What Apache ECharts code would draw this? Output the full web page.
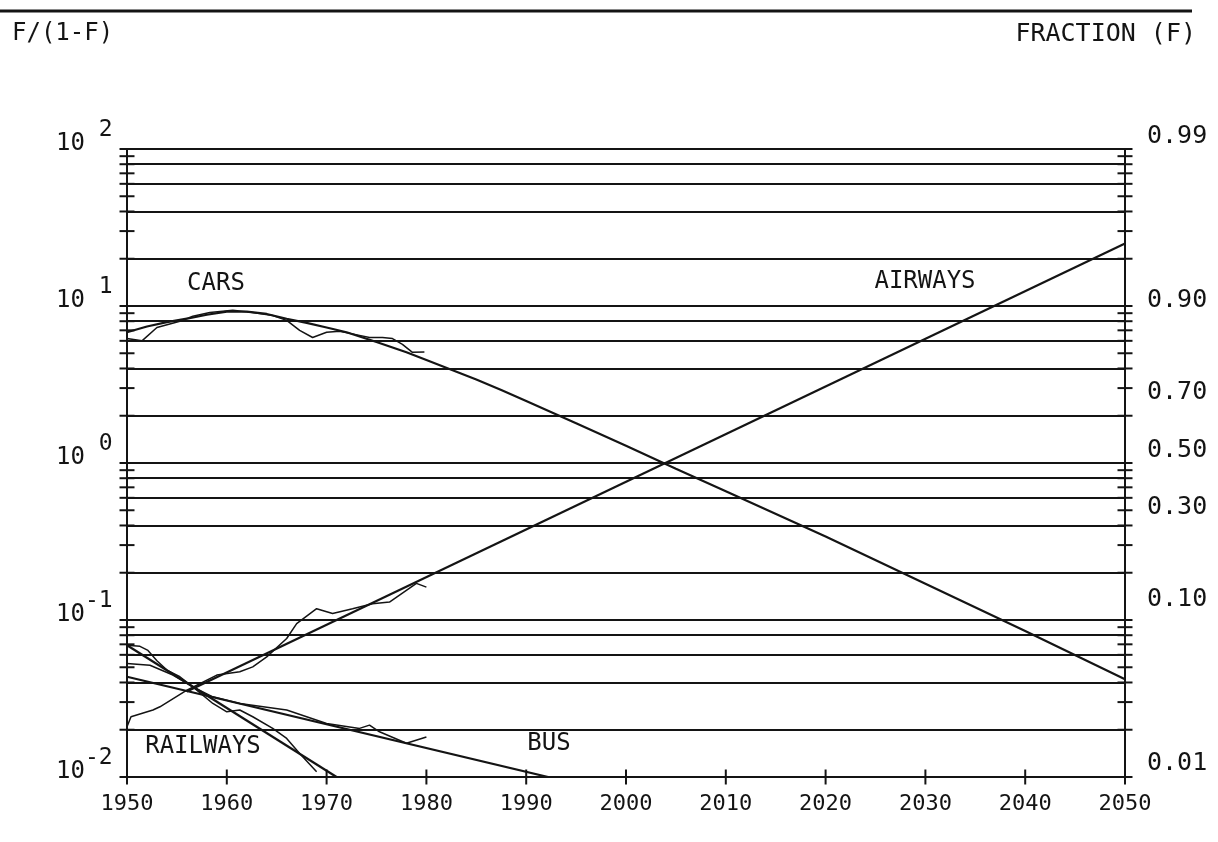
<!DOCTYPE html>
<html>
<head>
<meta charset="utf-8">
<script src="https://cdn.jsdelivr.net/npm/echarts@6/dist/echarts.min.js"></script>
<style>
html,body{margin:0;padding:0;background:#ffffff;}
#chart{width:1218px;height:842px;}
</style>
</head>
<body>
<div id="chart"></div>
<script>
// ---------- data ----------
const yearTicks = [1950,1960,1970,1980,1990,2000,2010,2020,2030,2040,2050];
const oddsTicks = [0.01,0.02,0.03,0.04,0.05,0.06,0.07,0.08,0.09,
                   0.1,0.2,0.3,0.4,0.5,0.6,0.7,0.8,0.9,
                   1,2,3,4,5,6,7,8,9,
                   10,20,30,40,50,60,70,80,90,100];
const gridOdds = [0.01,0.02,0.04,0.06,0.08,0.1,0.2,0.4,0.6,0.8,1,2,4,6,8,10,20,40,60,80,100];
const fractionValues = [0.99,0.90,0.70,0.50,0.30,0.10,0.01];
const fractionText   = ['0.99','0.90','0.70','0.50','0.30','0.10','0.01'];

// CARS
const carsHistYears = [1950,1951.5,1953,1955.3,1956.6,1958.3,1960.6,1962.6,1964.6,1966,1967.3,1968.6,1970,1971.3,1973.3,1974.3,1975.6,1976.6,1977.6,1978.6,1979.8];
const carsHistOdds  = [6.2,6.0,7.3,8.0,8.6,9.1,9.4,9.1,8.7,8.1,7.0,6.3,6.8,6.9,6.5,6.3,6.3,6.2,5.7,5.07,5.1];
const carsFitYears = [1950,1952,1954,1956,1958,1960,1962,1964,1966,1968,1970,1972,1975,1978,1980,1982.5,1985,1987.5,1990,1995,2000,2005,2010,2020,2030,2040,2050];
const carsFitOdds  = [6.8,7.4,7.9,8.3,8.8,9.2,9.2,8.9,8.3,7.8,7.3,6.8,5.9,5.07,4.53,3.93,3.40,2.92,2.48,1.79,1.29,0.92,0.66,0.34,0.17,0.085,0.042];

// AIRWAYS
const airHistYears = [1950,1950.4,1952.6,1953.3,1956,1959,1961.3,1962.6,1964,1966,1967,1969,1970.6,1972.6,1974.6,1976.3,1979,1980];
const airHistOdds  = [0.0209,0.0242,0.0267,0.028,0.0357,0.0446,0.0468,0.0503,0.0582,0.0762,0.0949,0.118,0.110,0.118,0.127,0.130,0.171,0.162];
const airFitYears = [1956,2050];
const airFitOdds  = [0.035,25];

// RAILWAYS
const railHistYears = [1950,1951.3,1952.1,1953,1954,1955.3,1956.6,1958.6,1960,1961.3,1962.6,1964.6,1966,1967.3,1969];
const railHistOdds  = [0.069,0.068,0.064,0.055,0.048,0.0435,0.0375,0.0294,0.026,0.0267,0.0242,0.0204,0.0176,0.0141,0.0108];
const railFitYears = [1950,1971];
const railFitOdds  = [0.069,0.01];

// BUS
const busHistYears = [1950,1952.3,1954.6,1956.6,1958.6,1961.3,1966,1970,1973.3,1974.3,1975.3,1978,1980];
const busHistOdds  = [0.0529,0.0515,0.0446,0.0375,0.0324,0.0294,0.0267,0.0219,0.0204,0.0214,0.0194,0.0164,0.018];
const busFitYears = [1950,1992.2];
const busFitOdds  = [0.0435,0.01];

// ---------- chart ----------
const INK = '#141414';
const FONT = 'DejaVu Sans Mono';
const pair = (xs, ys) => xs.map((x, i) => [x, ys[i]]);

function lineSeries(name, xs, ys, width) {
  return {
    name: name, type: 'line', data: pair(xs, ys),
    symbol: 'none', showSymbol: false, clip: true, silent: true,
    lineStyle: {color: INK, width: width}, z: 5
  };
}

const chart = echarts.init(document.getElementById('chart'), null, {renderer: 'canvas'});

const option = {
  animation: false,
  backgroundColor: '#ffffff',
  grid: {left: 127, right: 93, top: 149, bottom: 65, containLabel: false},
  xAxis: [{
    type: 'value', min: 1950, max: 2050, interval: 10,
    axisLine: {show: true, lineStyle: {color: INK, width: 2}},
    axisTick: {show: false},
    splitLine: {show: false},
    axisLabel: {
      show: true, margin: 16, color: INK,
      fontFamily: FONT, fontSize: 22,
      formatter: v => String(v)
    }
  }],
  yAxis: [{
    type: 'log', logBase: 10, min: 0.01, max: 100, position: 'left',
    axisLine: {show: true, lineStyle: {color: INK, width: 2}},
    axisTick: {show: false},
    splitLine: {show: false},
    minorTick: {show: false},
    axisLabel: {
      show: true, align: 'left', margin: 71, color: INK,
      formatter: v => {
        const e = Math.round(Math.log10(v));
        const s = e < 0 ? String(e) : ' ' + e;
        return '{b|10}{s|' + s + '}';
      },
      rich: {
        b: {fontFamily: FONT, fontSize: 24, color: INK, padding: [0, 0, 10, 0]},
        s: {fontFamily: FONT, fontSize: 23, color: INK, padding: [0, 0, 38, 0]}
      }
    }
  }, {
    type: 'log', logBase: 10, min: 0.01, max: 100, position: 'right',
    axisLine: {show: true, lineStyle: {color: INK, width: 2}},
    axisTick: {show: false}, axisLabel: {show: false}, splitLine: {show: false}
  }],
  series: [
    {
      name: 'grid', type: 'scatter', data: oddsTicks.map(v => [1950, v]),
      symbol: 'rect', symbolSize: [15, 2], clip: false, silent: true,
      itemStyle: {color: INK, opacity: 1},
      markLine: {
        silent: true, symbol: ['none', 'none'], label: {show: false},
        lineStyle: {type: 'solid', color: INK, width: 2},
        data: gridOdds.map(v => ({yAxis: v}))
      }
    },
    {
      name: 'rticks', type: 'scatter', data: oddsTicks.map(v => [2050, v]),
      symbol: 'rect', symbolSize: [15, 2], clip: false, silent: true,
      itemStyle: {color: INK, opacity: 1}
    },
    {
      name: 'xticks', type: 'scatter', data: yearTicks.map(y => [y, 0.01]),
      symbol: 'rect', symbolSize: [2, 15], clip: false, silent: true,
      itemStyle: {color: INK, opacity: 1}
    },
    {
      name: 'fraction', type: 'scatter', silent: true, clip: false,
      data: fractionValues.map((f, i) => ({value: [2050, f / (1 - f)], label: {formatter: fractionText[i]}})),
      symbolSize: 0, itemStyle: {opacity: 1},
      label: {
        show: true, position: 'right', distance: 22, offset: [0, -13],
        fontFamily: FONT, fontSize: 25, color: INK
      }
    },
    lineSeries('Cars fit', carsFitYears, carsFitOdds, 2.2),
    lineSeries('Cars', carsHistYears, carsHistOdds, 1.5),
    lineSeries('Airways fit', airFitYears, airFitOdds, 2.2),
    lineSeries('Airways', airHistYears, airHistOdds, 1.5),
    lineSeries('Railways fit', railFitYears, railFitOdds, 2.2),
    lineSeries('Railways', railHistYears, railHistOdds, 1.5),
    lineSeries('Bus fit', busFitYears, busFitOdds, 2.2),
    lineSeries('Bus', busHistYears, busHistOdds, 1.5)
  ],
  graphic: [
    {type: 'line', shape: {x1: 0, y1: 11, x2: 1192, y2: 11}, style: {stroke: INK, lineWidth: 3}},
    {type: 'text', x: 12, y: 34, style: {text: 'F/(1-F)', fontFamily: FONT, fontSize: 24, fill: INK, align: 'left', verticalAlign: 'middle'}},
    {type: 'text', x: 1196, y: 34, style: {text: 'FRACTION (F)', fontFamily: FONT, fontSize: 25, fill: INK, align: 'right', verticalAlign: 'middle'}},
    {type: 'text', x: 216, y: 284, style: {text: 'CARS', fontFamily: FONT, fontSize: 24, fill: INK, align: 'center', verticalAlign: 'middle'}},
    {type: 'text', x: 925, y: 282, style: {text: 'AIRWAYS', fontFamily: FONT, fontSize: 24, fill: INK, align: 'center', verticalAlign: 'middle'}},
    {type: 'text', x: 203, y: 747, style: {text: 'RAILWAYS', fontFamily: FONT, fontSize: 24, fill: INK, align: 'center', verticalAlign: 'middle'}},
    {type: 'text', x: 549, y: 744, style: {text: 'BUS', fontFamily: FONT, fontSize: 24, fill: INK, align: 'center', verticalAlign: 'middle'}}
  ]
};
chart.setOption(option);
</script>
</body>
</html>
